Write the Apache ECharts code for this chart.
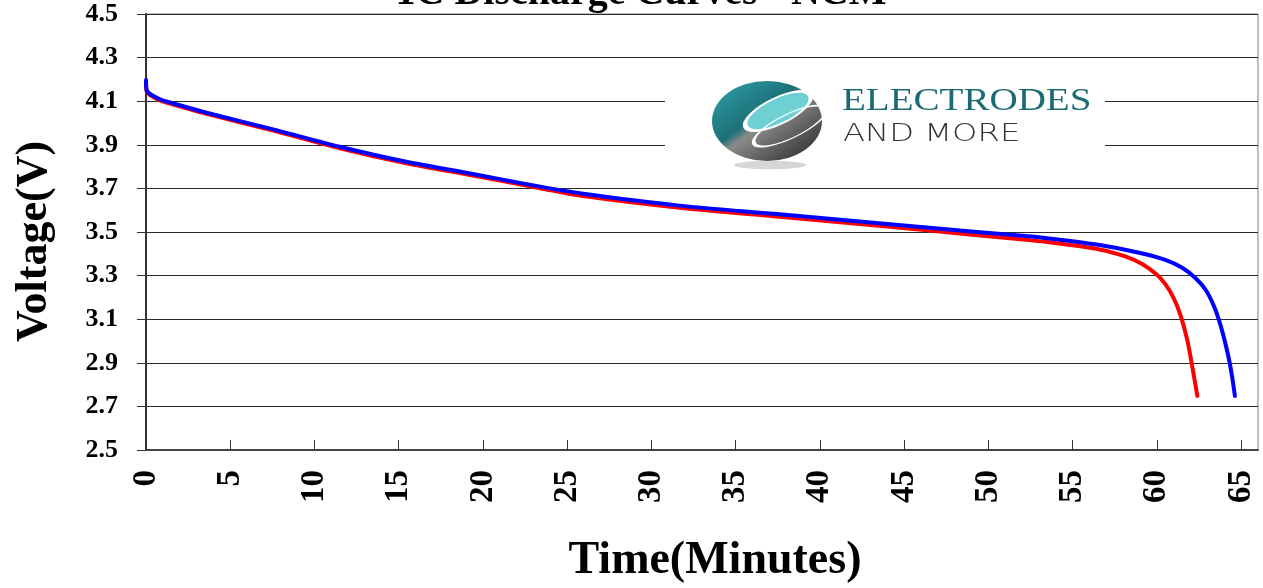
<!DOCTYPE html>
<html>
<head>
<meta charset="utf-8">
<script src="https://cdn.jsdelivr.net/npm/echarts@6/dist/echarts.min.js"></script>
<style>
html,body{margin:0;padding:0;background:#fff;}
#chart{width:1263px;height:588px;}
</style>
</head>
<body>
<div id="chart"></div>
<script>
// ---- data ----
const chartTitle = '1C Discharge Curves - NCM';
const xAxisTitle = 'Time(Minutes)';
const yAxisTitle = 'Voltage(V)';
const xTicks = [0, 5, 10, 15, 20, 25, 30, 35, 40, 45, 50, 55, 60, 65];
const yTicks = [2.5, 2.7, 2.9, 3.1, 3.3, 3.5, 3.7, 3.9, 4.1, 4.3, 4.5];

const redTime = [0, 0.04, 0.24, 0.83, 1.62, 3.6, 7.55, 11.5, 15.45, 19.4, 23.4, 25.74, 31.67, 37.6, 43.5, 49.5, 52.4, 53.6, 56.6, 58.16, 59.15, 59.95, 60.5, 61.0, 61.4, 61.8, 62.1, 62.4];
const redVolt = [4.19, 4.145, 4.128, 4.104, 4.085, 4.042, 3.965, 3.884, 3.815, 3.759, 3.701, 3.667, 3.611, 3.570, 3.529, 3.484, 3.463, 3.453, 3.420, 3.387, 3.352, 3.307, 3.261, 3.196, 3.119, 3.005, 2.882, 2.748];

const blueTime = [0, 0.04, 0.24, 0.83, 1.62, 3.6, 7.55, 11.5, 15.45, 19.4, 23.4, 25.74, 31.67, 37.6, 43.5, 49.5, 52.4, 53.6, 56.6, 58.95, 60.5, 61.5, 62.3, 62.9, 63.4, 63.8, 64.2, 64.43, 64.63];
const blueVolt = [4.197, 4.15, 4.133, 4.109, 4.09, 4.047, 3.971, 3.891, 3.822, 3.766, 3.708, 3.678, 3.621, 3.581, 3.540, 3.499, 3.480, 3.470, 3.440, 3.405, 3.372, 3.336, 3.288, 3.234, 3.157, 3.066, 2.944, 2.852, 2.748];

const logoWord1 = 'ELECTRODES';
const logoWord2 = 'AND MORE';

function pairs(t, v) { return t.map((x, i) => [x, v[i]]); }

const chart = echarts.init(document.getElementById('chart'));
const serif = '"Liberation Serif", "Times New Roman", serif';

chart.setOption({
  animation: false,
  backgroundColor: '#fff',
  grid: {
    left: 146, right: 5, top: 14, bottom: 138,
    show: true, borderColor: '#808080', borderWidth: 1, backgroundColor: 'transparent'
  },
  xAxis: {
    type: 'value', min: 0, max: 66,
    axisLine: { show: true, lineStyle: { color: '#444', width: 2 } },
    axisTick: { show: true, inside: true, length: 10, customValues: xTicks, lineStyle: { color: '#333', width: 1 } },
    axisLabel: {
      customValues: xTicks, rotate: 90, margin: 20,
      fontFamily: serif, fontWeight: 'bold', fontSize: 33, color: '#000'
    },
    splitLine: { show: false }
  },
  yAxis: {
    type: 'value', min: 2.5, max: 4.5, interval: 0.2,
    axisLine: { show: true, lineStyle: { color: '#333', width: 2 } },
    axisTick: { show: true, inside: false, length: 9, lineStyle: { color: '#333', width: 1 } },
    axisLabel: {
      margin: 28, fontFamily: serif, fontWeight: 'bold', fontSize: 26, color: '#000',
      formatter: v => v.toFixed(1)
    },
    splitLine: { show: true, lineStyle: { color: '#2a2a2a', width: 1 } }
  },
  series: [
    {
      name: 'red', type: 'line', data: pairs(redTime, redVolt),
      showSymbol: false, smooth: 0.3,
      lineStyle: { color: '#ff0000', width: 4, cap: 'round', join: 'round' }, z: 3
    },
    {
      name: 'blue', type: 'line', data: pairs(blueTime, blueVolt),
      showSymbol: false, smooth: 0.3,
      lineStyle: { color: '#0000ff', width: 4, cap: 'round', join: 'round' }, z: 4
    }
  ],
  graphic: [
    { type: 'text', x: 641, y: -6.5, z: 20,
      style: { text: chartTitle, font: 'bold 40px ' + serif, fill: '#000', textAlign: 'center', textVerticalAlign: 'middle' } },
    { type: 'text', x: 715, y: 561, z: 20,
      style: { text: xAxisTitle, font: 'bold 46px ' + serif, fill: '#000', textAlign: 'center', textVerticalAlign: 'middle' } },
    { type: 'text', x: 35, y: 241.5, rotation: Math.PI / 2, z: 20,
      style: { text: yAxisTitle, font: 'bold 44px ' + serif, fill: '#000', textAlign: 'center', textVerticalAlign: 'middle' } },
    // logo block
    { type: 'rect', shape: { x: 665, y: 76, width: 440, height: 92 }, style: { fill: '#fff' }, z: 10 },
    { type: 'circle', x: 770, y: 165, scaleY: 0.12, shape: { cx: 0, cy: 0, r: 36 }, style: { fill: '#d6d6d6' }, z: 11 },
    { type: 'circle', x: 767, y: 121, scaleX: 1.1, scaleY: 0.8, shape: { cx: 0, cy: 0, r: 50 },
      style: { fill: new echarts.graphic.LinearGradient(0, 0, 1, 1, [
        { offset: 0, color: '#2fa3ab' }, { offset: 0.42, color: '#1d7078' },
        { offset: 0.5, color: '#8a8a8a' }, { offset: 1, color: '#222' }]) }, z: 12 },
    { type: 'circle', x: 778, y: 111, rotation: 0.45, scaleY: 0.36, shape: { cx: 0, cy: 0, r: 36 },
      style: { fill: '#6fd0d4', stroke: '#fff', lineWidth: 5 }, z: 13 },
    { type: 'circle', x: 790, y: 126, rotation: 0.45, scaleY: 0.3, shape: { cx: 0, cy: 0, r: 40 },
      style: { fill: 'none', stroke: '#fff', lineWidth: 4 }, z: 13 },
    { type: 'text', x: 842, y: 102, scaleX: 1.22, z: 14,
      style: { text: logoWord1, font: '32px ' + serif, fill: '#1d6b72', textAlign: 'left', textVerticalAlign: 'middle' } },
    { type: 'text', x: 843, y: 134, scaleX: 1.29, z: 14,
      style: { text: logoWord2, font: '200 25px "DejaVu Sans", sans-serif', fill: '#333', textAlign: 'left', textVerticalAlign: 'middle' } }
  ]
});
</script>
</body>
</html>
